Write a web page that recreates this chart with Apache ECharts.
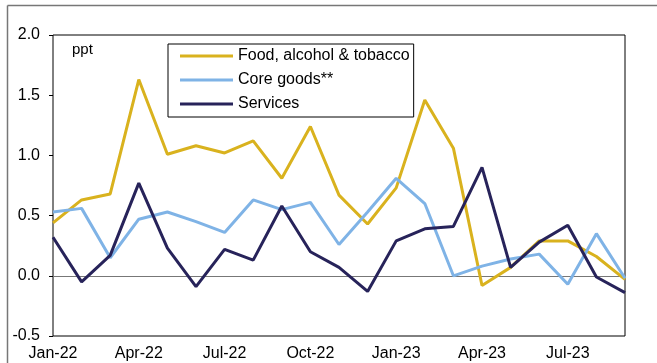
<!DOCTYPE html>
<html><head><meta charset="utf-8">
<script src="https://cdn.jsdelivr.net/npm/echarts@6/dist/echarts.min.js"></script>
<style>html,body{margin:0;padding:0;background:#fff}#c{width:657px;height:363px}</style>
</head><body><div id="c"></div>
<script>
const categories = ['Jan-22','Feb-22','Mar-22','Apr-22','May-22','Jun-22','Jul-22','Aug-22','Sep-22','Oct-22','Nov-22','Dec-22',
  'Jan-23','Feb-23','Mar-23','Apr-23','May-23','Jun-23','Jul-23','Aug-23','Sep-23'];
const food = [0.44,0.63,0.68,1.63,1.01,1.08,1.02,1.12,0.81,1.24,0.67,0.43,0.73,1.46,1.06,-0.08,0.07,0.29,0.29,0.16,-0.03];
const coreGoods = [0.53,0.56,0.15,0.47,0.53,0.45,0.36,0.63,0.55,0.61,0.26,0.53,0.81,0.60,0.00,0.08,0.14,0.18,-0.07,0.35,-0.02];
const services = [0.32,-0.05,0.17,0.77,0.23,-0.09,0.22,0.13,0.58,0.20,0.07,-0.13,0.29,0.39,0.41,0.90,0.07,0.28,0.42,-0.01,-0.14];
const yTicks = [-0.5,0.0,0.5,1.0,1.5,2.0];

const chart = echarts.init(document.getElementById('c'));
const font = 'Arial, "Liberation Sans", sans-serif';
function ln(name, data, color) {
  return {name, type:'line', data, symbol:'none', smooth:false,
    lineStyle:{color, width:3}, itemStyle:{color}, z:3};
}
chart.setOption({
  animation:false,
  grid:{left:53, top:35, right:32, bottom:27, show:true, borderColor:'#000', borderWidth:1},
  legend:{show:true, left:168, top:44, orient:'vertical', itemWidth:53, itemHeight:3, itemGap:8,
    padding:[4,4,5,12], borderColor:'#000', borderWidth:1, backgroundColor:'#fff',
    textStyle:{fontFamily:font, fontSize:16, color:'#000'},
    icon:'rect', data:['Food, alcohol & tobacco','Core goods**','Services']},
  xAxis:{type:'category', data:categories, boundaryGap:false,
    axisLine:{show:false}, axisTick:{show:false},
    axisLabel:{interval:2, fontFamily:font, fontSize:16, color:'#000', margin:10}},
  yAxis:{type:'value', min:-0.5, max:2.0, interval:0.5,
    axisLine:{show:false}, splitLine:{show:false},
    axisTick:{show:true, length:4, lineStyle:{color:'#000'}},
    axisLabel:{fontFamily:font, fontSize:16, color:'#000', margin:13,
      formatter:v=>{const t=yTicks.find(x=>Math.abs(x-v)<1e-9);return (t===undefined?v:t).toFixed(1);}}},
  graphic:[
    {type:'line', shape:{x1:7.5,y1:5.5,x2:657,y2:5.5}, style:{stroke:'#777', lineWidth:1.5}},
    {type:'line', shape:{x1:7.5,y1:5.5,x2:7.5,y2:363}, style:{stroke:'#777', lineWidth:1.5}},
    {type:'text', left:72, top:42, style:{text:'ppt', fontFamily:font, fontSize:15, fill:'#000'}}
  ],
  series:[
    Object.assign(ln('Food, alcohol & tobacco', food, '#D9B21E'), {
      markLine:{silent:true, symbol:'none', label:{show:false}, lineStyle:{color:'#777', width:1, type:'solid'},
        data:[{yAxis:0}], z:1}}),
    ln('Core goods**', coreGoods, '#7FB3E6'),
    ln('Services', services, '#27235A')
  ]
});
</script></body></html>
